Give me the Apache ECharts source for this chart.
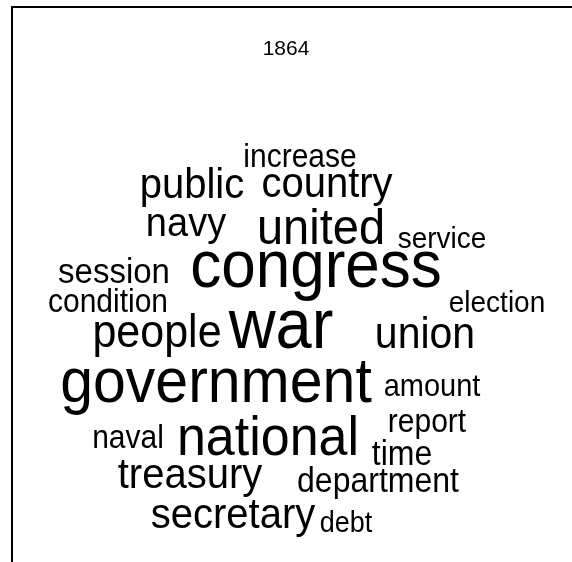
<!DOCTYPE html>
<html>
<head>
<meta charset="utf-8">
<title>1864</title>
<script src="https://cdn.jsdelivr.net/npm/echarts@6/dist/echarts.min.js"></script>
<style>
  html, body { margin: 0; padding: 0; background: #fff; }
  #chart { width: 572px; height: 562px; }
</style>
</head>
<body>
<div id="chart"></div>
<script>
// Word cloud for the 1864 State of the Union address.
// Each word has a font size (from its frequency) and a placed position
// (horizontal centre, text baseline) in the frame's coordinate space.
const year = '1864';
const words = ['increase', 'public', 'country', 'navy', 'united', 'service',
  'session', 'congress', 'condition', 'election', 'people', 'war', 'union',
  'government', 'amount', 'naval', 'national', 'report', 'time', 'treasury',
  'department', 'secretary', 'debt'];
const sizes = [30, 40, 40, 38, 47, 28,
  33, 62, 30, 28, 43, 65, 41,
  59, 29, 30, 52, 30, 32, 40,
  32, 40, 27];
const xPos = [288, 180, 315, 174, 309, 430,
  102, 304, 96, 485, 145, 269, 413,
  204, 420, 116, 256, 415, 390, 178,
  366, 221, 334];
const yPos = [162, 194, 193, 232, 241, 243,
  279, 285, 307, 307, 343, 346, 344,
  400, 391, 443, 452, 427, 460, 484,
  487, 524, 527];

// glyphs are drawn slightly taller than wide
const STRETCH_Y = 1.08;
const FONT = '"Liberation Sans", Arial, Helvetica, sans-serif';

const chart = echarts.init(document.getElementById('chart'), null, { renderer: 'canvas' });

chart.setOption({
  backgroundColor: '#ffffff',
  animation: false,
  title: {
    text: year,
    left: 'center',
    top: 34,
    textStyle: { fontFamily: FONT, fontSize: 21, fontWeight: 'normal', color: '#000' }
  },
  grid: { left: 12, top: 7, right: 0, bottom: 0 },
  xAxis: {
    type: 'value', min: 0, max: 560, position: 'top',
    axisLine: { show: true, onZero: false, lineStyle: { color: '#000', width: 2 } },
    axisTick: { show: false }, axisLabel: { show: false }, splitLine: { show: false }
  },
  yAxis: {
    type: 'value', min: 0, max: 555, inverse: true,
    axisLine: { show: true, onZero: false, lineStyle: { color: '#000', width: 2 } },
    axisTick: { show: false }, axisLabel: { show: false }, splitLine: { show: false }
  },
  series: [{
    type: 'custom',
    coordinateSystem: 'cartesian2d',
    data: words.map((w, i) => [xPos[i], yPos[i], sizes[i], w]),
    renderItem: function (params, api) {
      const p = api.coord([api.value(0), api.value(1)]);
      const fs = api.value(2);
      return {
        type: 'text',
        x: p[0],
        // baseline -> em-box middle for Arial-metric fonts
        y: p[1] - 0.3465 * fs * STRETCH_Y,
        scaleY: STRETCH_Y,
        style: {
          text: words[params.dataIndex],
          fontFamily: FONT,
          fontSize: fs,
          fill: '#000',
          align: 'center',
          verticalAlign: 'middle'
        }
      };
    }
  }]
});
</script>
</body>
</html>
